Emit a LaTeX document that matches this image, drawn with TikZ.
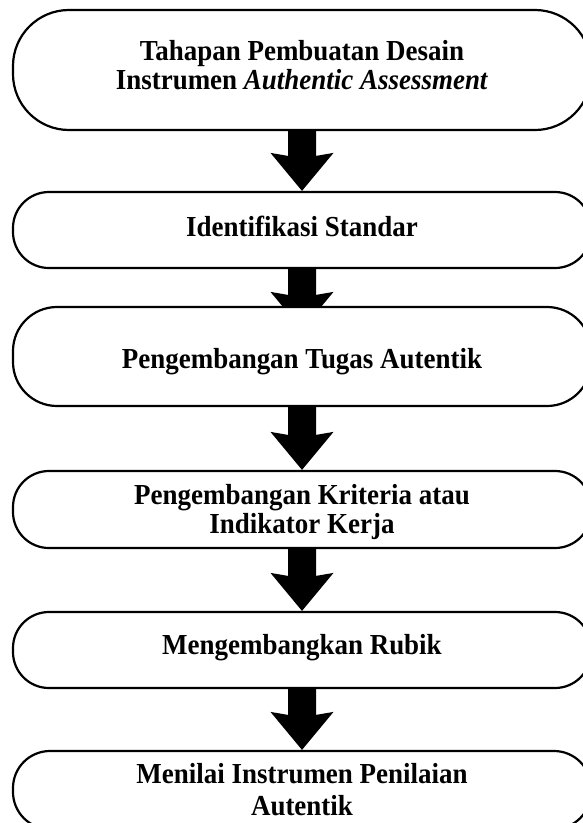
\documentclass[tikz,border=0pt]{standalone}
\usepackage{fontspec}
\setmainfont{Liberation Serif}[FakeStretch=0.93]
\usetikzlibrary{calc,backgrounds}
\newcommand\fatarrow[2]{%
  \fill[black] ($(#1)+(-14,0)$) -- ($(#1)+(14,0)$) -- ($(#2)+(14,-35)$)
    -- ($(#2)+(31.5,-38)$) -- (#2) -- ($(#2)+(-31.5,-38)$)
    -- ($(#2)+(-14,-35)$) -- cycle;}
\begin{document}
\begin{tikzpicture}[x=1bp,y=-1bp,
  stage/.style={draw=black, fill=white, line width=2.2bp, minimum width=578bp,
    align=center, inner sep=0pt,
    font=\fontsize{29bp}{29bp}\selectfont\bfseries}]
\useasboundingbox (0,0) rectangle (583,823);
\clip (0,0) rectangle (583,823);
\node[stage, minimum height=120bp, rounded corners=56bp] (b1) at (302,70)
  {Tahapan Pembuatan Desain\\Instrumen \textit{Authentic Assessment}\rule[-10.8bp]{0pt}{10.8bp}};
\node[stage, minimum height=76bp, rounded corners=36bp, text height=19bp, text depth=7bp] (b2) at (302,230)
  {Identifikasi Standar};
\node[stage, minimum height=99bp, rounded corners=44bp, text height=23bp, text depth=0bp] (b3) at (302,356.5)
  {Pengembangan Tugas Autentik};
\node[stage, minimum height=77bp, rounded corners=36bp] (b4) at (302,509.5)
  {\rule{0pt}{26bp}Pengembangan Kriteria atau\\Indikator Kerja};
\node[stage, minimum height=76bp, rounded corners=36bp, text height=19bp, text depth=11bp] (b5) at (302,650)
  {Mengembangkan Rubik};
\node[stage, minimum height=78bp, rounded corners=37bp] (b6) at (302,790)
  {Menilai Instrumen Penilaian\\[3bp]Autentik};
\coordinate (a2end) at ($(b3.north)+(0,24)$);
\begin{scope}[on background layer]
  \fatarrow{b1.south}{b2.north}
  \fatarrow{b2.south}{a2end}
  \fatarrow{b3.south}{b4.north}
  \fatarrow{b4.south}{b5.north}
  \fatarrow{b5.south}{b6.north}
\end{scope}
\end{tikzpicture}
\end{document}
